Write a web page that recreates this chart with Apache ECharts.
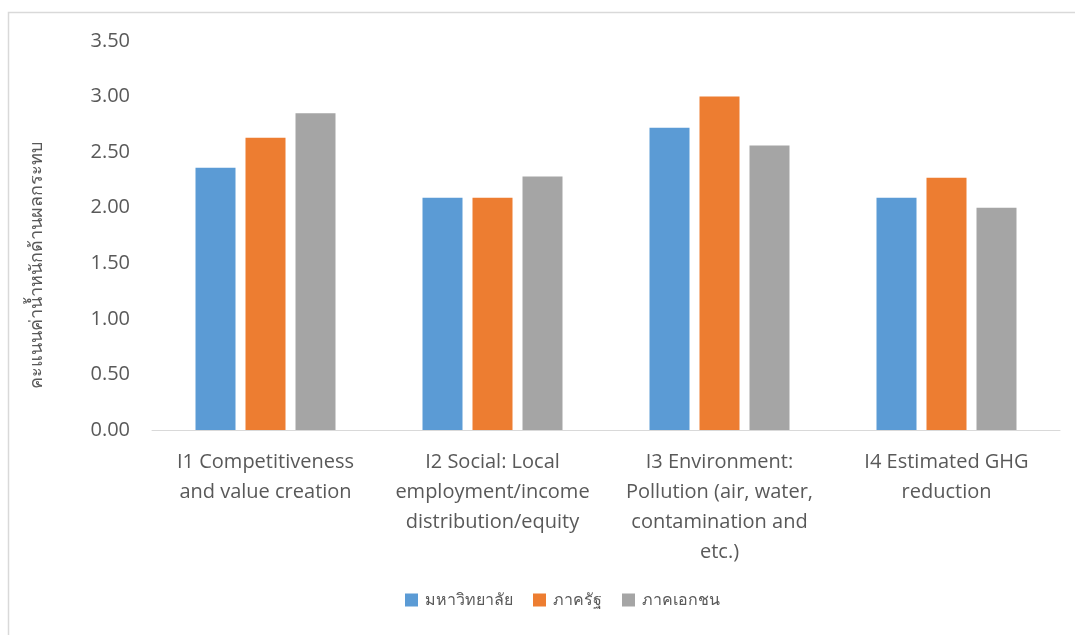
<!DOCTYPE html>
<html>
<head>
<meta charset="utf-8">
<script src="https://cdn.jsdelivr.net/npm/echarts@6/dist/echarts.min.js"></script>
<style>
  html, body { margin: 0; padding: 0; background: #fff; }
  #chart { width: 1075px; height: 635px; }
</style>
</head>
<body>
<div id="chart"></div>
<script>
// Impact-dimension categories on the x axis
const categories = [
  'I1 Competitiveness\nand value creation',
  'I2 Social: Local\nemployment/income\ndistribution/equity',
  'I3 Environment:\nPollution (air, water,\ncontamination and\netc.)',
  'I4 Estimated GHG\nreduction'
];

// Weighted scores per stakeholder group
const seriesNames = ['มหาวิทยาลัย', 'ภาครัฐ', 'ภาคเอกชน'];
const university = [2.36, 2.09, 2.72, 2.09];
const government = [2.63, 2.09, 3.00, 2.27];
const privateSector = [2.85, 2.28, 2.56, 2.00];

const colors = ['#5b9bd5', '#ed7d31', '#a5a5a5'];
const fontFamily = 'Open Sans, Noto Sans, Liberation Sans, sans-serif';

const chart = echarts.init(document.getElementById('chart'), null, { renderer: 'canvas' });

chart.setOption({
  animation: false,
  color: colors,
  textStyle: { fontFamily: fontFamily },
  graphic: [{
    type: 'rect',
    shape: { x: 8.5, y: 12.5, width: 1200, height: 800 },
    style: { fill: 'none', stroke: '#d9d9d9', lineWidth: 1.5 },
    silent: true
  }],
  grid: { left: 152, right: 15, top: 41, bottom: 205 },
  legend: {
    bottom: 22,
    left: 400,
    itemWidth: 13,
    itemHeight: 13,
    itemGap: 20,
    icon: 'rect',
    textStyle: { color: '#595959', fontSize: 16, fontFamily: fontFamily, padding: [0, 0, 0, 2] },
    data: seriesNames
  },
  xAxis: {
    type: 'category',
    data: categories,
    axisLine: { lineStyle: { color: '#d9d9d9', width: 1 } },
    axisTick: { show: false },
    axisLabel: {
      color: '#595959',
      fontSize: 20,
      lineHeight: 30,
      margin: 17,
      interval: 0,
      fontFamily: fontFamily
    }
  },
  yAxis: {
    type: 'value',
    min: 0,
    max: 3.5,
    interval: 0.5,
    name: 'คะแนนค่าน้ำหนักด้านผลกระทบ',
    nameLocation: 'middle',
    nameGap: 106,
    nameRotate: 90,
    nameTextStyle: { color: '#595959', fontSize: 18, fontFamily: fontFamily, padding: [0, 60, 0, 0] },
    axisLine: { show: false },
    axisTick: { show: false },
    splitLine: { show: false },
    axisLabel: {
      color: '#595959',
      fontSize: 20,
      margin: 22,
      formatter: v => v.toFixed(2),
      fontFamily: fontFamily
    }
  },
  series: [
    { name: seriesNames[0], type: 'bar', data: university, barWidth: 40, barGap: '25%' },
    { name: seriesNames[1], type: 'bar', data: government, barWidth: 40, barGap: '25%' },
    { name: seriesNames[2], type: 'bar', data: privateSector, barWidth: 40, barGap: '25%' }
  ]
});
</script>
</body>
</html>
